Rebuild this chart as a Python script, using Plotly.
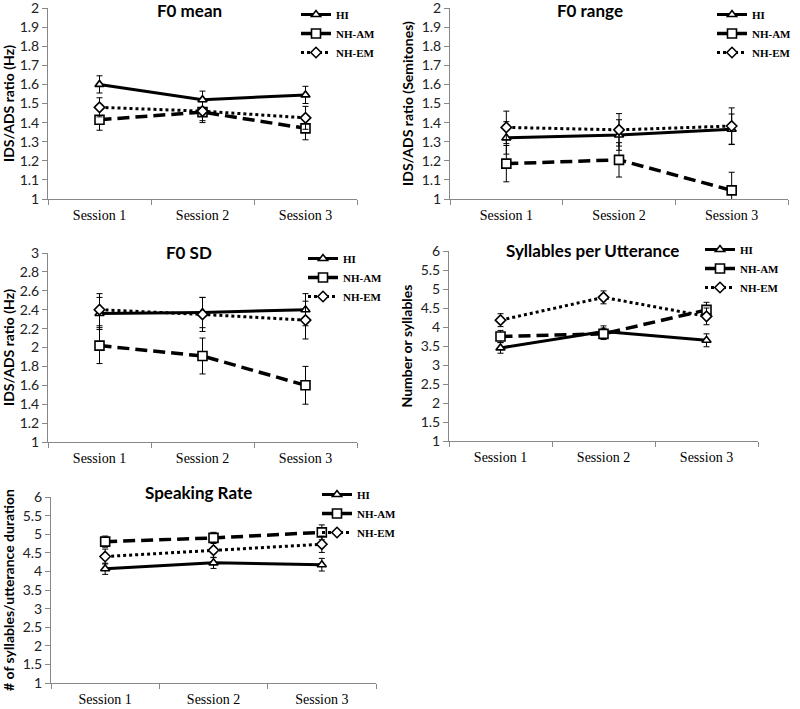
import plotly.graph_objects as go

sessions = ["Session 1", "Session 2", "Session 3"]
groups = ["HI", "NH-AM", "NH-EM"]

titles = ["F0 mean", "F0 range", "F0 SD", "Syllables per Utterance", "Speaking Rate"]
ytitles = ["IDS/ADS ratio (Hz)", "IDS/ADS ratio (Semitones)", "IDS/ADS ratio (Hz)",
           "Number or syllables", "# of syllables/utterance duration"]

# F0 mean
f0mean_hi = [1.60, 1.52, 1.545]
f0mean_am = [1.415, 1.455, 1.37]
f0mean_em = [1.48, 1.46, 1.425]
f0mean_hi_err = [0.045, 0.045, 0.045]
f0mean_am_err = [0.055, 0.055, 0.06]
f0mean_em_err = [0.05, 0.05, 0.06]

# F0 range
f0range_hi = [1.32, 1.335, 1.365]
f0range_am = [1.185, 1.205, 1.045]
f0range_em = [1.375, 1.362, 1.382]
f0range_hi_err = [0.085, 0.08, 0.08]
f0range_am_err = [0.095, 0.09, 0.095]
f0range_em_err = [0.085, 0.085, 0.095]

# F0 SD
f0sd_hi = [2.36, 2.37, 2.40]
f0sd_am = [2.02, 1.91, 1.60]
f0sd_em = [2.40, 2.35, 2.29]
f0sd_hi_err = [0.17, 0.16, 0.17]
f0sd_am_err = [0.19, 0.19, 0.20]
f0sd_em_err = [0.17, 0.18, 0.20]

# Syllables per utterance
syl_hi = [3.45, 3.88, 3.65]
syl_am = [3.75, 3.82, 4.45]
syl_em = [4.18, 4.78, 4.28]
syl_hi_err = [0.14, 0.15, 0.17]
syl_am_err = [0.16, 0.15, 0.2]
syl_em_err = [0.17, 0.17, 0.22]

# Speaking rate
rate_hi = [4.07, 4.23, 4.18]
rate_am = [4.80, 4.90, 5.05]
rate_em = [4.40, 4.57, 4.73]
rate_hi_err = [0.15, 0.15, 0.17]
rate_am_err = [0.15, 0.15, 0.2]
rate_em_err = [0.2, 0.2, 0.22]

panels = [
    (f0mean_hi, f0mean_am, f0mean_em, f0mean_hi_err, f0mean_am_err, f0mean_em_err),
    (f0range_hi, f0range_am, f0range_em, f0range_hi_err, f0range_am_err, f0range_em_err),
    (f0sd_hi, f0sd_am, f0sd_em, f0sd_hi_err, f0sd_am_err, f0sd_em_err),
    (syl_hi, syl_am, syl_em, syl_hi_err, syl_am_err, syl_em_err),
    (rate_hi, rate_am, rate_em, rate_hi_err, rate_am_err, rate_em_err),
]
yranges = [(1, 2, 0.1), (1, 2, 0.1), (1, 3, 0.2), (1, 6, 0.5), (1, 6, 0.5)]

W, H = 800, 709
# pixel boxes in page coords: x0, x1, ytop, ybottom
boxes = [(48, 357, 8, 199), (450, 788, 8, 199), (48, 357, 253, 442),
         (449, 758, 251, 441), (51, 376, 497, 683)]
legend_pos = [(296, 0), (712, 0), (303, 244), (700, 235), (317, 480)]
title_pos = [(189, 11), (590, 11), (189, 252), (592, 250), (198, 492)]


def px(x):
    return x / W


def py(y):
    return 1 - y / H


styles = [
    dict(dash="solid", width=3, symbol="triangle-up", size=8),
    dict(dash="12px,6px", width=3.5, symbol="square", size=9),
    dict(dash="dot", width=3, symbol="diamond", size=8),
]

fig = go.Figure()
for i, p in enumerate(panels):
    ax = "" if i == 0 else str(i + 1)
    leg = "legend" if i == 0 else f"legend{i+1}"
    for g in range(3):
        st = styles[g]
        fig.add_trace(go.Scatter(
            x=sessions, y=p[g], name=groups[g], mode="lines+markers",
            xaxis="x" + ax, yaxis="y" + ax, legend=leg,
            line=dict(color="black", width=st["width"], dash=st["dash"]),
            marker=dict(symbol=st["symbol"], size=st["size"], color="white",
                        line=dict(color="black", width=1.6)),
            error_y=dict(type="data", array=p[g + 3], color="black", thickness=1, width=3),
        ))

layout = dict(width=W, height=H, margin=dict(l=0, r=0, t=0, b=0, autoexpand=False),
              plot_bgcolor="white", paper_bgcolor="white", showlegend=True)
annotations = []
for i, (x0, x1, yt, yb) in enumerate(boxes):
    ax = "" if i == 0 else str(i + 1)
    lo, hi, dt = yranges[i]
    layout["xaxis" + ax] = dict(
        domain=[px(x0), px(x1)], anchor="y" + ax, type="category",
        range=[-0.5, 2.5], tickson="boundaries", ticks="outside", ticklen=5,
        showline=True, linecolor="#888", linewidth=1, tickcolor="#888",
        showgrid=False, zeroline=False, ticklabelstandoff=3,
        tickfont=dict(family="Liberation Serif", size=14, color="black"))
    layout["yaxis" + ax] = dict(
        domain=[py(yb), py(yt)], anchor="x" + ax,
        range=[lo, hi], dtick=dt, tick0=lo, ticks="outside", ticklen=5,
        showline=True, linecolor="#888", linewidth=1, tickcolor="#888",
        showgrid=False, zeroline=False, ticklabeloverflow="allow",
        tickfont=dict(family="Lato", size=14, color="#222"),
        title=dict(text=ytitles[i], font=dict(family="Lato", size=14, color="black", weight="bold"),
                   standoff=4))
    lx, ly = legend_pos[i]
    leg = "legend" if i == 0 else f"legend{i+1}"
    layout[leg] = dict(x=px(lx), y=py(ly), xanchor="left", yanchor="top",
                       bgcolor="rgba(0,0,0,0)", itemwidth=30, tracegroupgap=0,
                       font=dict(family="Liberation Serif", size=11, color="black", weight="bold"))
    tx, ty = title_pos[i]
    annotations.append(dict(
        text="<b>" + titles[i] + "</b>", xref="paper", yref="paper",
        x=px(tx), y=py(ty),
        xanchor="center", yanchor="middle", showarrow=False,
        font=dict(family="Lato", size=17, color="black")))
layout["annotations"] = annotations
fig.update_layout(**layout)
fig.write_html("out.html", config={"displayModeBar": False},
               post_script="document.body.style.margin='0px';")
